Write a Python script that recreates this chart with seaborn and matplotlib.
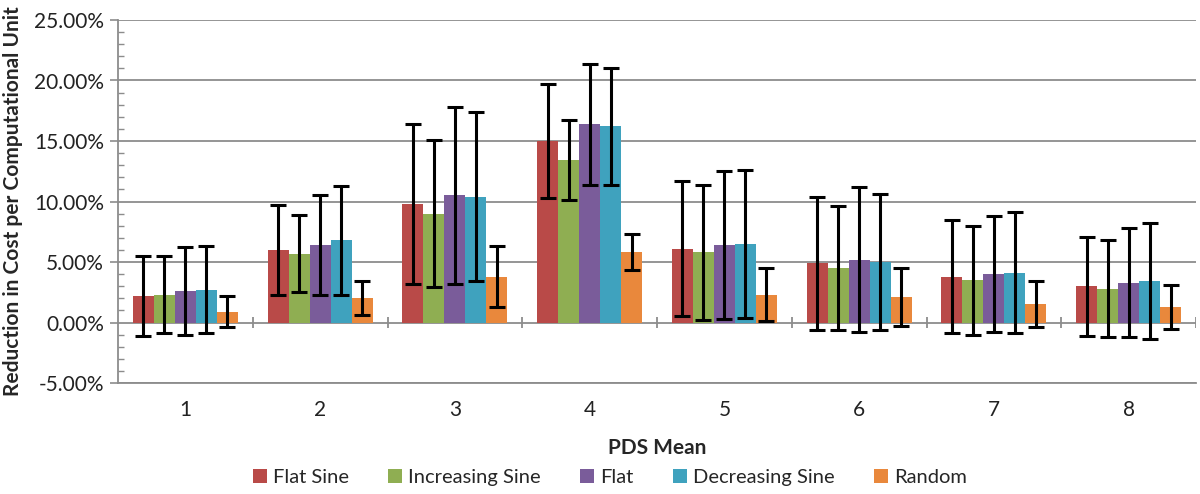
import matplotlib
matplotlib.use("Agg")
import matplotlib.pyplot as plt
import numpy as np
import pandas as pd
import seaborn as sns
from matplotlib.ticker import FuncFormatter, MultipleLocator

# values, in percent
pds_mean = ["1", "2", "3", "4", "5", "6", "7", "8"]
series = ["Flat Sine", "Increasing Sine", "Flat", "Decreasing Sine", "Random"]

flat_sine = [2.2, 6.0, 9.8, 15.0, 6.1, 4.9, 3.8, 3.0]
increasing_sine = [2.3, 5.7, 9.0, 13.4, 5.8, 4.5, 3.5, 2.8]
flat = [2.6, 6.4, 10.5, 16.4, 6.4, 5.2, 4.0, 3.3]
decreasing_sine = [2.7, 6.8, 10.4, 16.2, 6.5, 5.0, 4.1, 3.4]
random_ = [0.9, 2.0, 3.8, 5.8, 2.3, 2.1, 1.5, 1.3]

# half-widths of the error bars, in percent
flat_sine_err = [3.3, 3.7, 6.6, 4.7, 5.6, 5.5, 4.7, 4.1]
increasing_sine_err = [3.2, 3.2, 6.1, 3.3, 5.6, 5.1, 4.5, 4.0]
flat_err = [3.6, 4.1, 7.3, 5.0, 6.1, 6.0, 4.8, 4.5]
decreasing_sine_err = [3.6, 4.5, 7.0, 4.8, 6.1, 5.6, 5.0, 4.8]
random_err = [1.3, 1.4, 2.5, 1.5, 2.2, 2.4, 1.9, 1.8]

colors = ["#B94A48", "#8FAE52", "#7A5C9A", "#3FA2BE", "#E9883C"]

values = [flat_sine, increasing_sine, flat, decreasing_sine, random_]
errors = [flat_sine_err, increasing_sine_err, flat_err, decreasing_sine_err, random_err]

rows = []
for name, vals, errs in zip(series, values, errors):
    for cat, v, e in zip(pds_mean, vals, errs):
        rows.append({"PDS Mean": cat, "Pattern": name, "Value": v, "Err": e})
df = pd.DataFrame(rows)

sns.set_theme(style="white")
plt.rcParams["font.family"] = ["Lato", "DejaVu Sans"]

fig = plt.figure(figsize=(12, 4.94), dpi=100)
ax = fig.add_axes([118 / 1200, 1 - 383 / 494, (1196 - 118) / 1200, (383 - 20) / 494])

sns.barplot(
    data=df, x="PDS Mean", y="Value", hue="Pattern", order=pds_mean,
    hue_order=series, palette=colors, width=0.78, gap=0, errorbar=None,
    saturation=1, linewidth=0, ax=ax, zorder=2,
)

for container, name in zip(ax.containers, series):
    errs = df[df["Pattern"] == name].set_index("PDS Mean").loc[pds_mean, "Err"].values
    xs = [p.get_x() + p.get_width() / 2 for p in container.patches]
    ys = [p.get_height() for p in container.patches]
    ax.errorbar(xs, ys, yerr=errs, fmt="none", ecolor="black", elinewidth=2.2,
                capsize=6, capthick=2.2, zorder=3)

ax.set_xlim(-0.5, len(pds_mean) - 0.5)
ax.set_ylim(-5, 25)
ax.yaxis.set_major_locator(MultipleLocator(5))
ax.yaxis.set_minor_locator(MultipleLocator(1))
ax.yaxis.set_major_formatter(FuncFormatter(lambda v, _: f"{v:.2f}%"))
ax.grid(axis="y", which="major", color="#8c8c8c", linewidth=1.3, zorder=0)
ax.set_axisbelow(True)

for side in ["top", "right"]:
    ax.spines[side].set_visible(False)
ax.spines["left"].set_color("#8c8c8c")
ax.spines["left"].set_linewidth(1.3)
ax.spines["bottom"].set_color("#8c8c8c")
ax.spines["bottom"].set_linewidth(1.3)

ax.tick_params(axis="y", which="major", direction="out", length=6, width=1.2,
               color="#8c8c8c", labelsize=15, labelcolor="#222222", pad=4, left=True)
ax.tick_params(axis="y", which="minor", direction="in", length=4, width=1.0,
               color="#8c8c8c", left=True)
ax.tick_params(axis="x", which="major", length=0, labelsize=15,
               labelcolor="#222222", pad=12)

# category separator ticks crossing the 0% line
bounds = np.arange(0.5, len(pds_mean) - 0.4, 1.0)
ax.vlines(bounds, -0.45, 0.45, color="#8c8c8c", linewidth=1.3, zorder=1)

ax.set_xlabel("PDS Mean", fontsize=15, fontweight="bold", labelpad=13)
ax.set_ylabel("Reduction in Cost per Computational Unit", fontsize=15,
              fontweight="bold", labelpad=8)

handles, labels = ax.get_legend_handles_labels()
ax.get_legend().remove()
fig.legend(handles, labels, loc="center", bbox_to_anchor=(0.508, 0.033),
           ncol=5, frameon=False, fontsize=14.5, handlelength=0.7,
           handleheight=0.7, handletextpad=0.3, columnspacing=1.95,
           borderpad=0.1)

fig.savefig("out.png", dpi=100)
